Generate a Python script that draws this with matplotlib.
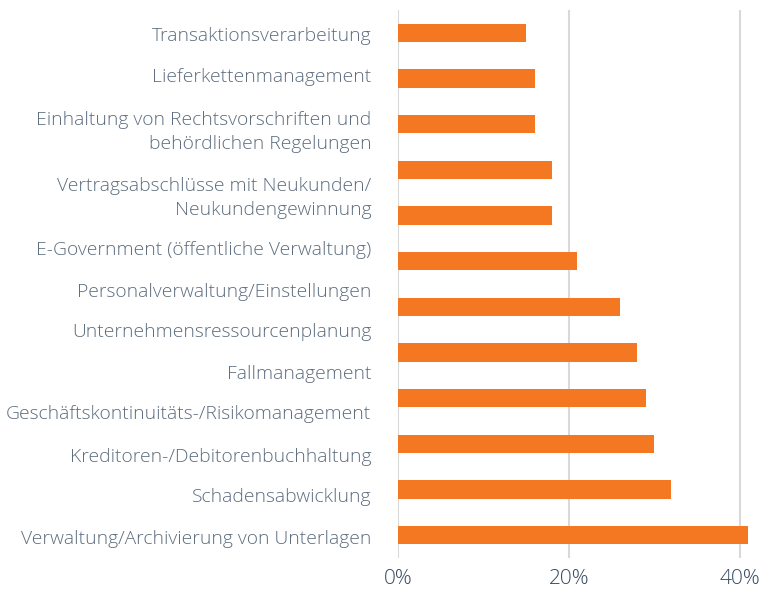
import matplotlib.pyplot as plt
import numpy as np

categories = [
    "Transaktionsverarbeitung",
    "Lieferkettenmanagement",
    "Einhaltung von Rechtsvorschriften und\nbehördlichen Regelungen",
    "Vertragsabschlüsse mit Neukunden/\nNeukundengewinnung",
    "E-Government (öffentliche Verwaltung)",
    "Personalverwaltung/Einstellungen",
    "Unternehmensressourcenplanung",
    "Fallmanagement",
    "Geschäftskontinuitäts-/Risikomanagement",
    "Kreditoren-/Debitorenbuchhaltung",
    "Schadensabwicklung",
    "Verwaltung/Archivierung von Unterlagen",
]
values = [15, 16, 16, 18, 18, 21, 26, 28, 29, 30, 32, 41]
# where the labels sit in the original (they drift from the bars)
label_pos = [0.02, 0.92, 2.05, 3.5, 4.71, 5.64, 6.51, 7.43, 8.3, 9.25, 10.13, 11.05]
xticks = [0, 20, 40]

plt.rcParams['font.family'] = ['Open Sans', 'DejaVu Sans']

fig = plt.figure(figsize=(7.74, 5.94), dpi=100)
ax = fig.add_axes([0.514, 0.0606, 0.464, 0.9224])

y = np.arange(len(values))
ax.barh(y, values, height=0.4, color='#F47721', zorder=3)

ax.set_ylim(len(values) - 0.5, -0.5)
ax.set_xlim(0, 42)
ax.set_xticks(xticks, [f"{t}%" for t in xticks])
ax.set_yticks(label_pos, categories)

for lbl in ax.get_yticklabels():
    lbl.set_fontsize(13.9)
    lbl.set_color('#5d6d7e')
    lbl.set_fontweight('light')
    lbl.set_linespacing(1.45)
for lbl in ax.get_xticklabels():
    lbl.set_fontsize(15)
    lbl.set_color('#34495e')
    lbl.set_fontweight('light')

ax.tick_params(axis='y', length=0, pad=19)
ax.tick_params(axis='x', length=0, pad=8)
ax.grid(axis='x', color='#d9d9d9', linewidth=1.5, zorder=0)
for s in ax.spines.values():
    s.set_visible(False)

fig.savefig('out.png', dpi=100)
